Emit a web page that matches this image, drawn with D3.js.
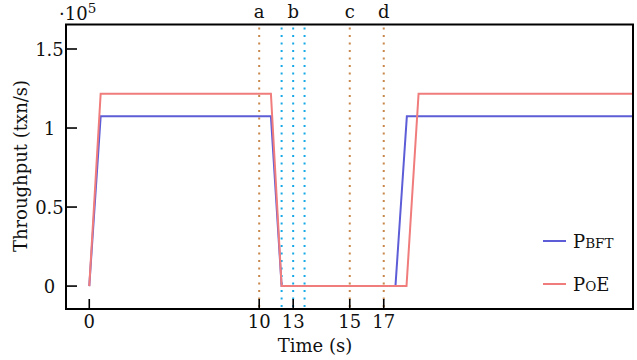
<!DOCTYPE html>
<meta charset="utf-8">
<script src="https://d3js.org/d3.v7.min.js"></script>
<style>
body { margin: 0; background: white; }
svg text { font-family: "DejaVu Serif", serif; fill: #111; }
</style>
<div id="chart"></div>
<script>

// data (throughput in 1e5 txn/s, time in s)
var timePbft = [0, 0.67, 10.69, 11.32, 18.02, 18.69, 32];
var valPbft  = [0, 1.074, 1.074, 0, 0, 1.074, 1.074];
var timePoe  = [0, 0.67, 10.69, 11.32, 18.67, 19.38, 32];
var valPoe   = [0, 1.217, 1.217, 0, 0, 1.217, 1.217];

var xTickPos    = [0, 10, 12, 15.33, 17.33];
var xTickLabels = ["0", "10", "13", "15", "17"];
var yTicks      = [0, 0.5, 1, 1.5];
var yTickLabels = ["0", "0.5", "1", "1.5"];

// event markers
var brownLines  = [10, 15.33, 17.33];
var cyanLines   = [11.32, 12, 12.67];
var eventPos    = [10, 12, 15.33, 17.33];
var eventLabels = ["a", "b", "c", "d"];

var W = 637, H = 360;
var pLeft = 66, pRight = 633, pTop = 24.5, pBottom = 309;
var fs = "18px", fsSmall = "13.5px";

var svg = d3.select("#chart").append("svg")
  .attr("width", W).attr("height", H);

var x = d3.scaleLinear().domain([-1.37, 32]).range([pLeft, pRight]);
var y = d3.scaleLinear().domain([-0.145, 1.655]).range([pBottom, pTop]);

svg.append("clipPath").attr("id", "clip")
  .append("rect").attr("x", pLeft).attr("y", pTop)
  .attr("width", pRight - pLeft).attr("height", pBottom - pTop);

// dotted event lines
svg.selectAll(".brown").data(brownLines).enter().append("line")
  .attr("x1", d => x(d)).attr("x2", d => x(d))
  .attr("y1", pTop + 3).attr("y2", pBottom)
  .attr("stroke", "#c8874b").attr("stroke-width", 2)
  .attr("stroke-dasharray", "2,5.5");
svg.selectAll(".cyan").data(cyanLines).enter().append("line")
  .attr("x1", d => x(d)).attr("x2", d => x(d))
  .attr("y1", pTop + 3).attr("y2", pBottom)
  .attr("stroke", "#17a9e6").attr("stroke-width", 2)
  .attr("stroke-dasharray", "2,5.5");

svg.selectAll(".evlab").data(eventPos).enter().append("text")
  .attr("x", d => x(d)).attr("y", 18)
  .attr("text-anchor", "middle").style("font-size", fs)
  .text((d, i) => eventLabels[i]);

// lines
var line = d3.line().x(d => x(d[0])).y(d => y(d[1]));
var g = svg.append("g").attr("clip-path", "url(#clip)");
g.append("path").datum(d3.zip(timePbft, valPbft))
  .attr("d", line).attr("fill", "none")
  .attr("stroke", "#5d5dd8").attr("stroke-width", 2);
g.append("path").datum(d3.zip(timePoe, valPoe))
  .attr("d", line).attr("fill", "none")
  .attr("stroke", "#f07c7c").attr("stroke-width", 2);

// ticks (inward)
svg.selectAll(".xt").data(xTickPos).enter().append("line")
  .attr("x1", d => x(d)).attr("x2", d => x(d))
  .attr("y1", pBottom).attr("y2", pBottom - 10)
  .attr("stroke", "black").attr("stroke-width", 1.6);
svg.selectAll(".yt").data(yTicks).enter().append("line")
  .attr("x1", pLeft).attr("x2", pLeft + 11)
  .attr("y1", d => y(d)).attr("y2", d => y(d))
  .attr("stroke", "black").attr("stroke-width", 1.6);

svg.selectAll(".xl").data(xTickPos).enter().append("text")
  .attr("x", d => x(d)).attr("y", 328)
  .attr("text-anchor", "middle").style("font-size", fs)
  .text((d, i) => xTickLabels[i]);
svg.selectAll(".yl").data(yTicks).enter().append("text")
  .attr("x", 49.5).attr("y", d => y(d) + 7)
  .attr("text-anchor", "middle").style("font-size", fs)
  .text((d, i) => yTickLabels[i]);

// frame
svg.append("rect")
  .attr("x", pLeft).attr("y", pTop)
  .attr("width", pRight - pLeft).attr("height", pBottom - pTop)
  .attr("fill", "none").attr("stroke", "black").attr("stroke-width", 2);

// axis titles
svg.append("text").attr("x", 315).attr("y", 352)
  .attr("text-anchor", "middle").style("font-size", fs)
  .text("Time (s)");
svg.append("text")
  .attr("transform", "translate(27,166) rotate(-90)")
  .attr("text-anchor", "middle").style("font-size", fs)
  .text("Throughput (txn/s)");

// multiplier
var mult = svg.append("text").attr("x", 59).attr("y", 20).style("font-size", fs);
mult.append("tspan").text("·10");
mult.append("tspan").attr("dy", -7).style("font-size", fsSmall).text("5");

// legend
var legend = [
  {name: ["P", "BFT"], color: "#5d5dd8", y: 241},
  {name: ["P", "O", "E"], color: "#f07c7c", y: 284}
];
legend.forEach(function(l) {
  svg.append("line").attr("x1", 543).attr("x2", 566)
    .attr("y1", l.y).attr("y2", l.y)
    .attr("stroke", l.color).attr("stroke-width", 2);
  var t = svg.append("text").attr("x", 573).attr("y", l.y + 7).style("font-size", fs);
  l.name.forEach(function(s, i) {
    t.append("tspan").style("font-size", (i % 2 === 1) ? fsSmall : fs).text(s);
  });
});

</script>
